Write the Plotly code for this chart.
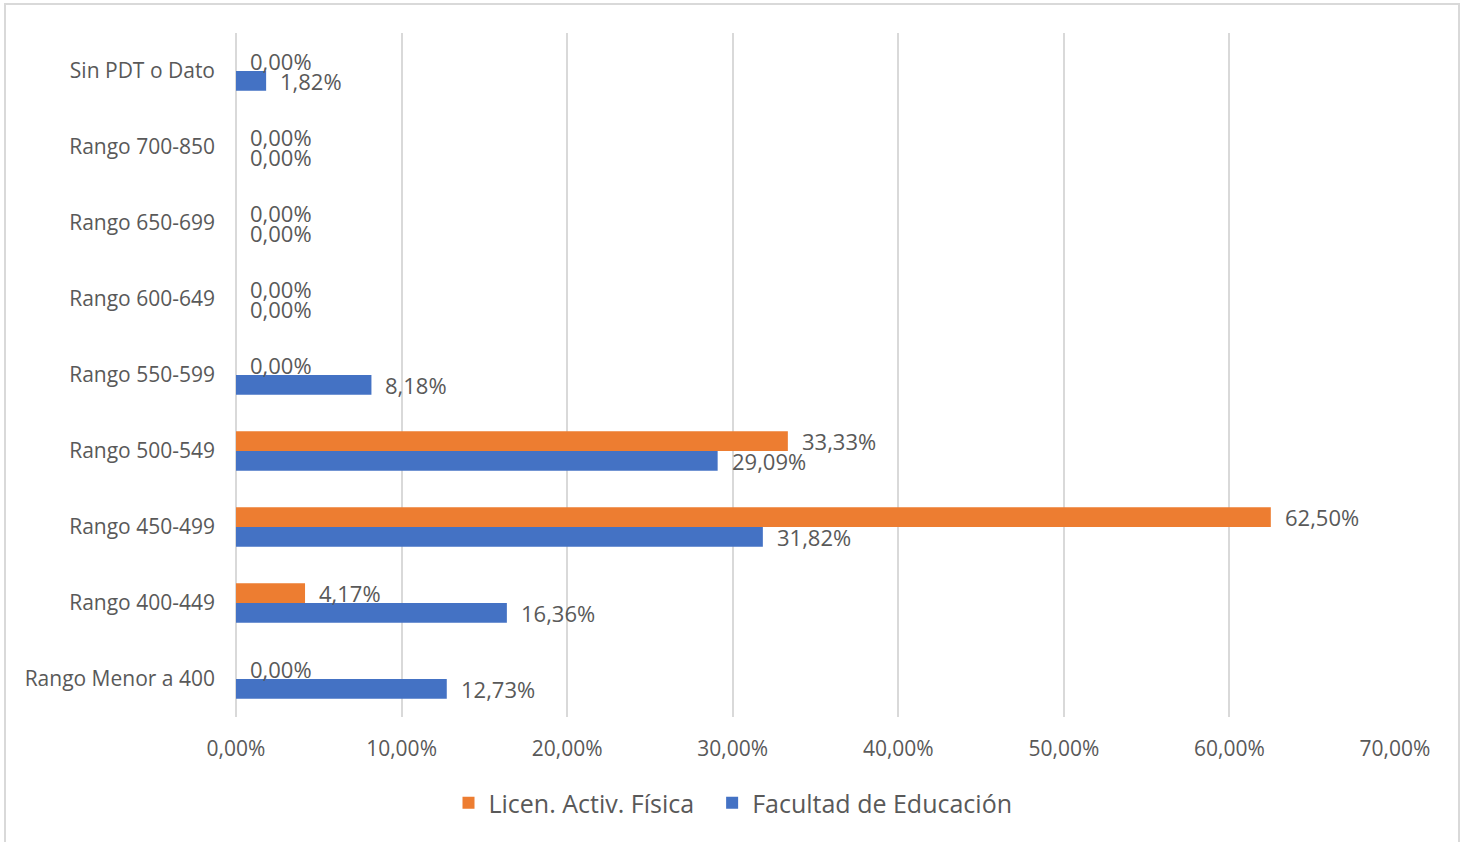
import plotly.graph_objects as go

categories = ["Sin PDT o Dato", "Rango 700-850", "Rango 650-699", "Rango 600-649",
              "Rango 550-599", "Rango 500-549", "Rango 450-499", "Rango 400-449",
              "Rango Menor a 400"]
licen_af = [0.00, 0.00, 0.00, 0.00, 0.00, 33.33, 62.50, 4.17, 0.00]
facultad_edu = [1.82, 0.00, 0.00, 0.00, 8.18, 29.09, 31.82, 16.36, 12.73]
tick_vals = [0, 10, 20, 30, 40, 50, 60, 70]
tick_text = ["0,00%", "10,00%", "20,00%", "30,00%", "40,00%", "50,00%", "60,00%", "70,00%"]

ORANGE = "#ED7D31"
BLUE = "#4472C4"
TXT = "#595959"
FONT = "Open Sans"


def fmt(v):
    return f"{v:.2f}".replace(".", ",") + "%"


fig = go.Figure()
fig.add_trace(go.Bar(y=categories, x=licen_af, orientation="h",
                     name="Licen. Activ. Física\u00a0\u00a0",
                     marker=dict(color=ORANGE, line=dict(width=0)), hoverinfo="skip"))
fig.add_trace(go.Bar(y=categories, x=facultad_edu, orientation="h", name="Facultad de Educación",
                     marker=dict(color=BLUE, line=dict(width=0)), hoverinfo="skip"))

annotations = []
for series, shift in ((licen_af, 10), (facultad_edu, -10)):
    for c, v in zip(categories, series):
        annotations.append(dict(x=v, y=c, text=fmt(v), showarrow=False, xanchor="left",
                                yanchor="middle", xshift=12, yshift=shift,
                                font=dict(family=FONT, size=22, color=TXT)))

W, H = 1466, 842
L, R, T, B = 236, 1395, 33, 717
pw, ph = R - L, B - T
shapes = [dict(type="rect", xref="paper", yref="paper",
               x0=(5 - L) / pw, x1=(1459 - L) / pw,
               y0=(B - 845) / ph, y1=(B - 4) / ph,
               line=dict(color="#D9D9D9", width=2), fillcolor="rgba(0,0,0,0)", layer="below")]

fig.update_layout(
    width=W, height=H,
    margin=dict(l=L, r=W - R, t=T, b=H - B),
    paper_bgcolor="white", plot_bgcolor="white",
    barmode="group", bargap=0.48, bargroupgap=0,
    font=dict(family=FONT, size=21, color=TXT),
    xaxis=dict(range=[0, 70], tickvals=tick_vals, ticktext=tick_text,
               showgrid=True, gridcolor="#D9D9D9", gridwidth=2,
               zeroline=True, zerolinecolor="#D9D9D9", zerolinewidth=2,
               showline=False, ticks="", ticklabelstandoff=17,
               tickfont=dict(family=FONT, size=21, color=TXT), fixedrange=True),
    yaxis=dict(autorange="reversed", showgrid=False, zeroline=False, showline=False,
               ticks="", ticklabelstandoff=20,
               tickfont=dict(family=FONT, size=21, color=TXT), fixedrange=True),
    legend=dict(orientation="h", xref="container", yref="container", x=0.5,
                y=1 - 803 / H,
                xanchor="center", yanchor="middle",
                font=dict(family=FONT, size=25, color=TXT), itemwidth=30,
                traceorder="normal"),
    annotations=annotations,
    shapes=shapes,
    showlegend=True,
)

fig.write_html("out.html", config={"displayModeBar": False},
               post_script="document.body.style.margin='0';document.body.style.overflow='hidden';")
